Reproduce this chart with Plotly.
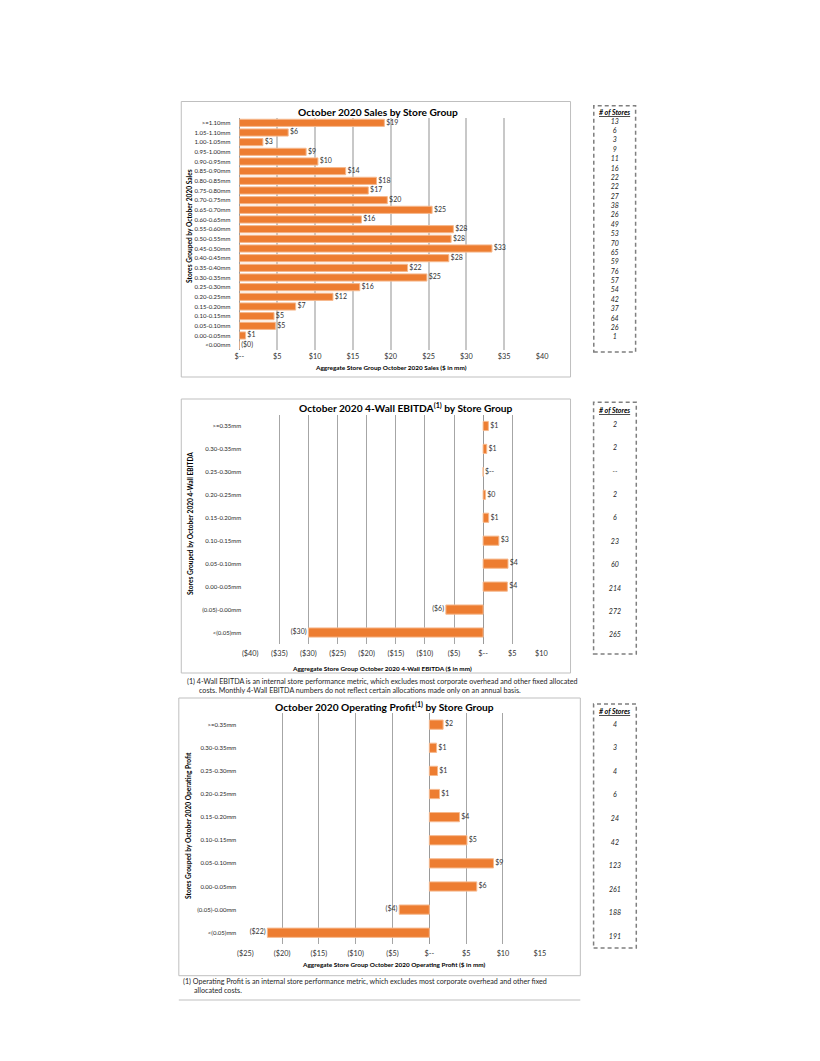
import plotly.graph_objects as go

W, H = 820, 1061
FONT = "Lato"

# ---------------- data ----------------
sales_cats = [">=1.10mm", "1.05-1.10mm", "1.00-1.05mm", "0.95-1.00mm", "0.90-0.95mm",
              "0.85-0.90mm", "0.80-0.85mm", "0.75-0.80mm", "0.70-0.75mm", "0.65-0.70mm",
              "0.60-0.65mm", "0.55-0.60mm", "0.50-0.55mm", "0.45-0.50mm", "0.40-0.45mm",
              "0.35-0.40mm", "0.30-0.35mm", "0.25-0.30mm", "0.20-0.25mm", "0.15-0.20mm",
              "0.10-0.15mm", "0.05-0.10mm", "0.00-0.05mm", "<0.00mm"]
sales_vals = [19.16, 6.45, 3.11, 8.82, 10.38, 14.05, 18.12, 17.04, 19.55, 25.47,
              16.13, 28.28, 27.98, 33.38, 27.68, 22.23, 24.78, 15.91, 12.37, 7.44,
              4.58, 4.76, 0.82, -0.04]
sales_counts = ["13", "6", "3", "9", "11", "16", "22", "22", "27", "38", "26", "49", "53",
                "70", "65", "59", "76", "57", "54", "42", "37", "64", "26", "1"]

ebitda_cats = [">=0.35mm", "0.30-0.35mm", "0.25-0.30mm", "0.20-0.25mm", "0.15-0.20mm",
               "0.10-0.15mm", "0.05-0.10mm", "0.00-0.05mm", "(0.05)-0.00mm", "<(0.05)mm"]
ebitda_vals = [0.9, 0.62, 0, 0.39, 0.96, 2.7, 4.27, 4.16, -6.4, -30.0]
ebitda_counts = ["2", "2", "--", "2", "6", "23", "60", "214", "272", "265"]

op_cats = [">=0.35mm", "0.30-0.35mm", "0.25-0.30mm", "0.20-0.25mm", "0.15-0.20mm",
           "0.10-0.15mm", "0.05-0.10mm", "0.00-0.05mm", "(0.05)-0.00mm", "<(0.05)mm"]
op_vals = [1.87, 0.98, 1.11, 1.38, 4.09, 5.11, 8.71, 6.44, -4.09, -22.0]
op_counts = ["4", "3", "4", "6", "24", "42", "123", "261", "188", "191"]

sales_ticks = [0, 5, 10, 15, 20, 25, 30, 35, 40]
ebitda_ticks = [-40, -35, -30, -25, -20, -15, -10, -5, 0, 5, 10]
op_ticks = [-25, -20, -15, -10, -5, 0, 5, 10, 15]

titles = ["October 2020 Sales by Store Group",
          "October 2020 4-Wall EBITDA<sup>(1)</sup> by Store Group",
          "October 2020 Operating Profit<sup>(1)</sup> by Store Group"]
xtitles = ["Aggregate Store Group October 2020 Sales ($ in mm)",
           "Aggregate Store Group October 2020 4-Wall EBITDA ($ in mm)",
           "Aggregate Store Group October 2020 Operating Profit ($ in mm)"]
ytitles = ["Stores Grouped by October 2020 Sales",
           "Stores Grouped by October 2020 4-Wall EBITDA",
           "Stores Grouped by October 2020 Operating Profit"]
foot2 = ["(1) 4-Wall EBITDA is an internal store performance metric, which excludes most corporate overhead and other fixed allocated",
         "costs. Monthly 4-Wall EBITDA numbers do not reflect certain allocations made only on an annual basis."]
foot3 = ["(1) Operating Profit is an internal store performance metric, which excludes most corporate overhead and other fixed",
         "allocated costs."]


def money(v):
    r = round(abs(v))
    if v == 0:
        return "$--"
    if v < 0:
        return "(${})".format(r)
    return "${}".format(r)


def px(x):
    return x / W


def py(y):
    return 1 - y / H


ORANGE = "#ED7D31"
EDGE = "#F6B98E"
TXT = "#333333"
NB = "\u00a0"

fig = go.Figure()

charts = [
    dict(cats=sales_cats, vals=sales_vals, counts=sales_counts, ticks=sales_ticks,
         rng=[0, 40], xd=(235.7, 544.0), yd=(118.0, 350.0), bw=0.74, xso=1,
         cd=(117.3, 342.2), box=(596.7, 105.7, 639.3, 352.0), hdr=112.0,
         grid="#C8C8C8", gw=1.5),
    dict(cats=ebitda_cats, vals=ebitda_vals, counts=ebitda_counts, ticks=ebitda_ticks,
         rng=[-40, 10], xd=(246.7, 543.3), yd=(414.5, 644.0), bw=0.40, xso=4,
         cd=(413.3, 647.4), box=(596.5, 402.3, 640.0, 654.0), hdr=410.0,
         grid="#A6A6A6", gw=1),
    dict(cats=op_cats, vals=op_vals, counts=op_counts, ticks=op_ticks,
         rng=[-25, 15], xd=(241.7, 541.7), yd=(713.1, 944.3), bw=0.40, xso=3,
         cd=(713.2, 949.1), box=(596.5, 704.0, 640.0, 948.0), hdr=711.0,
         grid="#A6A6A6", gw=1),
]

layout = {}
for i, c in enumerate(charts):
    n = i + 1
    xa = "x" if n == 1 else "x%d" % n
    ya = "y" if n == 1 else "y%d" % n
    ncat = len(c["cats"])
    # bars
    fig.add_trace(go.Bar(x=c["vals"], y=c["cats"], orientation="h", width=c["bw"],
                         marker=dict(color=ORANGE, line=dict(color=EDGE, width=1)),
                         xaxis=xa, yaxis=ya, hoverinfo="skip"))
    # data labels
    lx, lp, lt = [], [], []
    for v in c["vals"]:
        if v < 0 and c["rng"][0] < 0:
            lx.append(v)
            lp.append("middle left")
            lt.append(money(v) + NB)
        else:
            lx.append(max(v, c["rng"][0]))
            lp.append("middle right")
            lt.append(NB + money(v))
    fig.add_trace(go.Scatter(x=lx, y=c["cats"], mode="text", text=lt, textposition=lp,
                             textfont=dict(family=FONT, size=7, color=TXT),
                             xaxis=xa, yaxis=ya, cliponaxis=False, hoverinfo="skip"))
    layout["xaxis" if n == 1 else "xaxis%d" % n] = dict(
        domain=[px(c["xd"][0]), px(c["xd"][1])], range=c["rng"], anchor=ya,
        tickvals=c["ticks"], ticktext=[money(t) for t in c["ticks"]],
        showgrid=True, gridcolor=c["grid"], gridwidth=c["gw"],
        zeroline=True, zerolinecolor="#9A9A9A", zerolinewidth=1,
        showline=False, ticks="", fixedrange=True, ticklabelstandoff=c["xso"],
        tickfont=dict(family=FONT, size=7.3, color=TXT))
    layout["yaxis" if n == 1 else "yaxis%d" % n] = dict(
        domain=[py(c["yd"][1]), py(c["yd"][0])], anchor=xa, type="category",
        categoryorder="array", categoryarray=c["cats"], range=[ncat - 0.5, -0.5],
        showgrid=False, zeroline=False, showline=False, ticks="", fixedrange=True,
        ticklabelstandoff=8, tickfont=dict(family=FONT, size=6.0, color="#262626"))

    # store counts column on its own hidden axes
    cn = n + 3
    cxa, cya = "x%d" % cn, "y%d" % cn
    fig.add_trace(go.Scatter(x=[0.5] * ncat, y=c["cats"], mode="text",
                             text=["<i>%s</i>" % s for s in c["counts"]],
                             textposition="middle center",
                             textfont=dict(family=FONT, size=7, color="#262626"),
                             xaxis=cxa, yaxis=cya, cliponaxis=False, hoverinfo="skip"))
    bx0, by0, bx1, by1 = c["box"]
    layout["xaxis%d" % cn] = dict(domain=[px(bx0), px(bx1)], range=[0, 1], visible=False,
                                  anchor=cya, fixedrange=True)
    layout["yaxis%d" % cn] = dict(domain=[py(c["cd"][1]), py(c["cd"][0])], anchor=cxa,
                                  type="category", categoryorder="array",
                                  categoryarray=c["cats"], range=[ncat - 0.5, -0.5],
                                  visible=False, fixedrange=True)

shapes = []
annotations = []


def ann(text, x, y, size, bold=False, xanchor="center", angle=0, color="#000000"):
    annotations.append(dict(text=("<b>%s</b>" % text) if bold else text,
                            x=px(x), y=py(y), xref="paper", yref="paper",
                            xanchor=xanchor, yanchor="middle", showarrow=False,
                            textangle=angle, font=dict(family=FONT, size=size, color=color)))


frames = [(176.5, 101.5, 573.0, 377.0), (176.5, 399.0, 573.0, 673.0), (174.0, 698.0, 583.0, 975.7)]
for (x0, y0, x1, y1) in frames:
    shapes.append(dict(type="rect", xref="paper", yref="paper", x0=px(x0), x1=px(x1),
                       y0=py(y1), y1=py(y0), line=dict(color="#BFBFBF", width=1)))
shapes.append(dict(type="line", xref="paper", yref="paper", x0=px(174), x1=px(583),
                   y0=py(1000), y1=py(1000), line=dict(color="#BFBFBF", width=1)))

for c in charts:
    bx0, by0, bx1, by1 = c["box"]
    shapes.append(dict(type="rect", xref="paper", yref="paper", x0=px(bx0), x1=px(bx1),
                       y0=py(by1), y1=py(by0),
                       line=dict(color="#7F7F7F", width=1.5, dash="4px,3px")))
    ann("<i><u>#&nbsp;of&nbsp;Stores</u></i>", (bx0 + bx1) / 2, c["hdr"], 7, bold=True)

# titles
ann(titles[0], 377, 112, 10.2, bold=True)
ann(titles[1], 405, 408, 10.2, bold=True)
ann(titles[2], 384, 706.7, 10.2, bold=True)
# x titles
ann(xtitles[0], 390, 368, 6.4, bold=True)
ann(xtitles[1], 381, 668, 6.4, bold=True)
ann(xtitles[2], 392.5, 964.3, 6.4, bold=True)
# y titles
ann(ytitles[0], 184.3, 226, 6.6, bold=True, angle=-90)
ann(ytitles[1], 185, 523.5, 6.6, bold=True, angle=-90)
ann(ytitles[2], 183.3, 825, 6.6, bold=True, angle=-90)
# footnotes
ann(foot2[0], 180, 681, 7.15, xanchor="left", color="#262626")
ann(foot2[1], 193, 690, 7.15, xanchor="left", color="#262626")
ann(foot3[0], 176.7, 981, 7.15, xanchor="left", color="#262626")
ann(foot3[1], 187, 990, 7.15, xanchor="left", color="#262626")

fig.update_layout(width=W, height=H, margin=dict(l=0, r=0, t=0, b=0), autosize=False,
                  paper_bgcolor="white", plot_bgcolor="white", showlegend=False,
                  font=dict(family=FONT, color=TXT), shapes=shapes,
                  annotations=annotations, **layout)

fig.write_html("out.html", config={"displayModeBar": False},
               post_script="document.body.style.margin='0';document.body.style.overflow='hidden';")
